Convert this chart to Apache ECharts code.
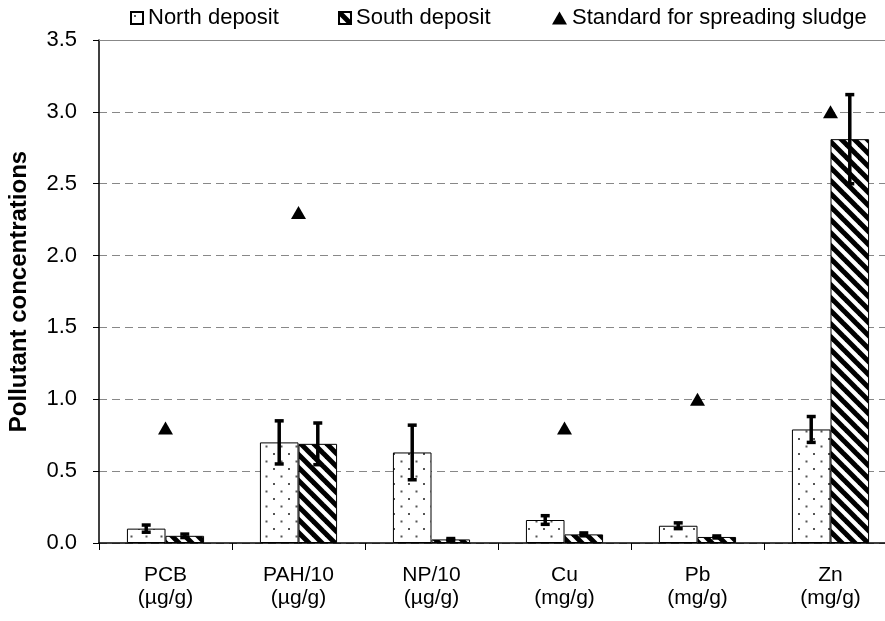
<!DOCTYPE html>
<html>
<head>
<meta charset="utf-8">
<script src="https://cdn.jsdelivr.net/npm/echarts@6/dist/echarts.min.js"></script>
<style>
  html, body { margin: 0; padding: 0; background: #fff; }
  #chart { width: 885px; height: 621px; }
</style>
</head>
<body>
<div id="chart"></div>
<script>
// values
var categories = ['PCB\n(µg/g)', 'PAH/10\n(µg/g)', 'NP/10\n(µg/g)', 'Cu\n(mg/g)', 'Pb\n(mg/g)', 'Zn\n(mg/g)'];
var northMean = [0.10, 0.70, 0.63, 0.16, 0.12, 0.79];
var northErr  = [0.025, 0.15, 0.19, 0.03, 0.02, 0.09];
var southMean = [0.05, 0.69, 0.025, 0.06, 0.042, 2.81];
var southErr  = [0.012, 0.145, 0.006, 0.01, 0.007, 0.31];
var standard  = [0.8, 2.3, null, 0.8, 1.0, 3.0];
var yTicks = [0, 0.5, 1.0, 1.5, 2.0, 2.5, 3.0, 3.5];

var FONT = 'Liberation Sans, Arial, sans-serif';

// fill patterns
function dotPattern() {
    var c = document.createElement('canvas');
    c.width = 15; c.height = 15;
    var g = c.getContext('2d');
    g.fillStyle = '#fff';
    g.fillRect(0, 0, 15, 15);
    g.fillStyle = '#555';
    g.fillRect(3, 3, 2, 2);
    g.fillRect(10.5, 10.5, 2, 2);
    return c;
}
function stripePattern() {
    var s = 13;
    var c = document.createElement('canvas');
    c.width = s; c.height = s;
    var g = c.getContext('2d');
    g.fillStyle = '#fff';
    g.fillRect(0, 0, s, s);
    g.strokeStyle = '#000';
    g.lineWidth = 5;
    for (var k = -1; k <= 1; k++) {
        g.beginPath();
        g.moveTo(k * s - 2, -2);
        g.lineTo(k * s + s + 2, s + 2);
        g.stroke();
    }
    return c;
}

function errData(mean, err) {
    return mean.map(function (m, i) { return [i, m - err[i], m + err[i]]; });
}

function errRender(side) {
    return function (params, api) {
        var band = api.size([1, 0])[0];
        var x = api.coord([api.value(0), 0])[0] + side * band * 0.145;
        var lo = api.coord([api.value(0), api.value(1)])[1];
        var hi = api.coord([api.value(0), api.value(2)])[1];
        var st = { stroke: '#000', lineWidth: 3.5 };
        return {
            type: 'group',
            children: [
                { type: 'line', shape: { x1: x, y1: lo, x2: x, y2: hi }, style: st },
                { type: 'line', shape: { x1: x - 4.5, y1: lo, x2: x + 4.5, y2: lo }, style: st },
                { type: 'line', shape: { x1: x - 4.5, y1: hi, x2: x + 4.5, y2: hi }, style: st }
            ]
        };
    };
}

var legendText = { fontSize: 22, color: '#000', fontFamily: FONT };

var myChart = echarts.init(document.getElementById('chart'));
var option = {
    animation: false,
    textStyle: { fontFamily: FONT, color: '#000' },
    grid: { left: 99, top: 40, width: 798, height: 503, outerBoundsMode: 'none' },
    legend: [
        {
            left: 130, top: 7, padding: 0, icon: 'rect', itemWidth: 12, itemHeight: 12,
            textStyle: legendText,
            data: ['North deposit']
        },
        {
            left: 338, top: 7, padding: 0, icon: 'rect', itemWidth: 12, itemHeight: 12,
            textStyle: legendText,
            data: ['South deposit']
        },
        {
            left: 552, top: 7, padding: 0, itemWidth: 15, itemHeight: 13,
            textStyle: legendText,
            data: ['Standard for spreading sludge']
        }
    ],
    xAxis: {
        type: 'category',
        data: categories,
        axisLine: { lineStyle: { color: '#000', width: 1.5 } },
        axisTick: { show: true, length: 7, lineStyle: { color: '#000' } },
        axisLabel: { fontSize: 21, lineHeight: 23, color: '#000', margin: 21, fontFamily: FONT }
    },
    yAxis: {
        type: 'value',
        min: 0, max: 3.5, interval: 0.5,
        name: 'Pollutant concentrations',
        nameLocation: 'middle',
        nameGap: 68,
        nameTextStyle: { fontSize: 24, fontWeight: 'bold', color: '#000', fontFamily: FONT },
        axisLine: { show: true, lineStyle: { color: '#000', width: 1.5 } },
        axisTick: { show: true, length: 6, lineStyle: { color: '#000' } },
        axisLabel: {
            fontSize: 22, color: '#000', margin: 22, fontFamily: FONT,
            formatter: function (v) { return yTicks.indexOf(v) >= 0 ? v.toFixed(1) : ''; }
        },
        splitLine: { show: true, lineStyle: { color: '#888', type: [8, 5], width: 1 } }
    },
    series: [
        {
            name: 'North deposit',
            type: 'bar',
            data: northMean,
            barWidth: '29%',
            barGap: '0%',
            itemStyle: { color: { image: dotPattern(), repeat: 'repeat' }, borderColor: '#000', borderWidth: 1 }
        },
        {
            name: 'South deposit',
            type: 'bar',
            data: southMean,
            barWidth: '29%',
            barGap: '0%',
            itemStyle: { color: { image: stripePattern(), repeat: 'repeat' }, borderColor: '#000', borderWidth: 1 }
        },
        {
            name: 'north err',
            type: 'custom',
            data: errData(northMean, northErr),
            encode: { x: 0, y: [1, 2] },
            renderItem: errRender(-1),
            z: 5
        },
        {
            name: 'south err',
            type: 'custom',
            data: errData(southMean, southErr),
            encode: { x: 0, y: [1, 2] },
            renderItem: errRender(1),
            z: 5
        },
        {
            name: 'Standard for spreading sludge',
            type: 'scatter',
            data: standard.map(function (v) { return v === null ? '-' : v; }),
            symbol: 'triangle',
            symbolSize: [15, 13],
            itemStyle: { color: '#000', opacity: 1 },
            z: 6,
            markLine: {
                silent: true,
                symbol: 'none',
                label: { show: false },
                lineStyle: { color: '#888', type: 'solid', width: 1 },
                data: [{ yAxis: 3.5 }]
            }
        }
    ]
};
myChart.setOption(option);
</script>
</body>
</html>
